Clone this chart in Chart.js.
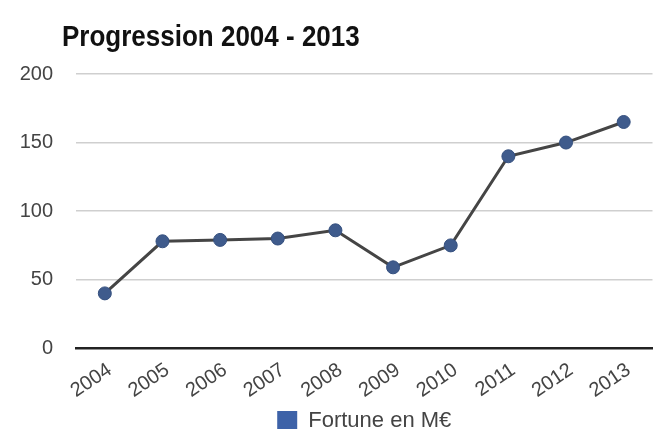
<!DOCTYPE html>
<html>
<head>
<meta charset="utf-8">
<script src="https://cdn.jsdelivr.net/npm/chart.js@4/dist/chart.umd.min.js"></script>
<style>
  html, body { margin: 0; padding: 0; background: #fff; }
  #wrap { width: 660px; height: 429px; position: relative; }
  #title {
    position: absolute; left: 62px; top: 19px; margin: 0;
    font: bold 26px 'Liberation Sans', Arial, sans-serif; color: #111;
    transform: scaleY(1.14); transform-origin: left top; white-space: nowrap;
  }
</style>
</head>
<body>
<div id="wrap">
  <div id="title">Progression 2004 - 2013</div>
  <canvas id="chart"></canvas>
</div>
<script>
const years = ["2004", "2005", "2006", "2007", "2008", "2009", "2010", "2011", "2012", "2013"];
const fortune = [40, 78, 79, 80, 86, 59, 75, 140, 150, 165];
const yTicks = [0, 50, 100, 150, 200];

const font = "'Liberation Sans', Arial, sans-serif";

new Chart(document.getElementById("chart"), {
  type: "line",
  data: {
    labels: years,
    datasets: [{
      label: "Fortune en M€",
      data: fortune,
      borderColor: "#454545",
      borderWidth: 3,
      pointBackgroundColor: "#3f5b8c",
      pointBorderColor: "#35507f",
      pointRadius: 6.5,
      pointBorderWidth: 1,
      tension: 0,
    }],
  },
  options: {
    responsive: true,
    maintainAspectRatio: false,
    animation: false,
    layout: { padding: { left: 17, right: 0, top: 74, bottom: -13 } },
    plugins: {
      title: { display: false },
      legend: {
        position: "bottom",
        fullSize: false,
        labels: {
          color: "#444",
          font: { family: font, size: 22 },
          boxWidth: 20,
          boxHeight: 20,
          padding: 0,
          generateLabels: () => [{
            text: "Fortune en M€",
            fillStyle: "#3d62a8",
            strokeStyle: "#3d62a8",
            lineWidth: 0,
            fontColor: "#444",
          }],
        },
      },
      tooltip: { enabled: false },
    },
    scales: {
      x: {
        offset: true,
        grid: { display: false },
        border: { color: "#222", width: 2.5 },
        afterFit: (axis) => { axis.height += 5; },
        ticks: {
          color: "#444",
          font: { family: font, size: 20 },
          maxRotation: 34,
          minRotation: 34,
          padding: 2,
          labelOffset: 5,
        },
      },
      y: {
        min: 0,
        max: 200,
        afterBuildTicks: (axis) => { axis.ticks = yTicks.map((v) => ({ value: v })); },
        afterFit: (axis) => { axis.width = 59; },
        grid: { color: "#cfcfcf", lineWidth: 1.5, drawTicks: false },
        border: { display: false },
        ticks: {
          color: "#444",
          font: { family: font, size: 20 },
          padding: 23,
        },
      },
    },
  },
});
</script>
</body>
</html>
